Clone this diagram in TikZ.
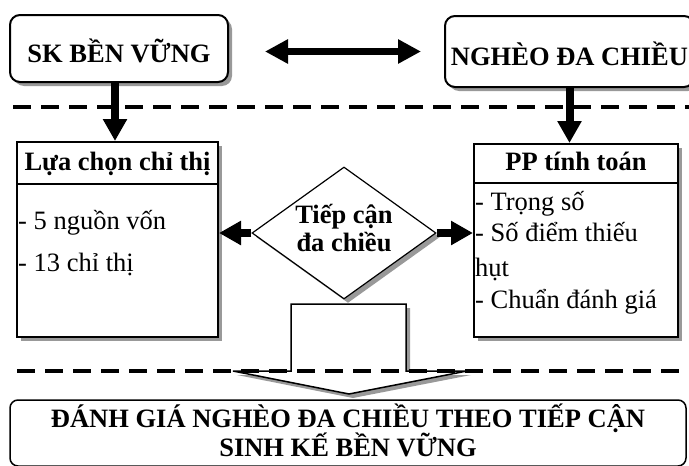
\documentclass[tikz,border=0pt]{standalone}
\usepackage{fontspec}
\setmainfont{Liberation Serif}
\usetikzlibrary{arrows.meta,shapes.geometric,shadows}

\begin{document}
\begin{tikzpicture}[x=1pt,y=-1pt,
  boxshadow/.style={drop shadow={shadow xshift=4pt,shadow yshift=-4pt,fill=black!40,opacity=1}},
  bigfont/.style={font=\fontsize{26.5}{30}\selectfont},
  boldfont/.style={font=\fontsize{26.5}{30}\selectfont\bfseries},
  topbox/.style={draw,line width=2pt,rounded corners=10pt,fill=white,boxshadow,inner sep=0pt,text height=27pt,text depth=0pt,boldfont},
  listbox/.style={draw,line width=2pt,fill=white,boxshadow,inner sep=0pt},
  headbox/.style={draw,line width=2pt,inner sep=0pt,text height=20pt,text depth=6pt,boldfont},
  itemtext/.style={anchor=base west,inner sep=1pt,bigfont},
  fatarrow/.style={line width=8pt,-{Triangle[length=22pt,width=23pt]}},
  sepline/.style={line width=4pt,dash pattern=on 18pt off 10pt}]
\useasboundingbox (0,0) rectangle (689,466);

% top row
\node[topbox,minimum width=218pt,minimum height=67pt] (sk) at (119,48.5) {SK BỀN VỮNG};
\node[topbox,minimum width=249pt,minimum height=71pt] (ngheo) at (569.5,51.5) {NGHÈO ĐA CHIỀU};
\draw[line width=7pt,{Triangle[length=23pt,width=23pt]}-{Triangle[length=23pt,width=23pt]},
  shorten <=36pt,shorten >=23pt] (sk.east |- ngheo.west) -- (ngheo.west);

% two lists
\node[listbox,minimum width=201pt,minimum height=195pt] (lc) at (117.5,239.5) {};
\node[headbox,minimum width=201pt,minimum height=42pt,anchor=north] (lchead) at (lc.north) {Lựa chọn chỉ thị};
\node[itemtext] (lc1) at (17,229) {- 5 nguồn vốn};
\node[itemtext] (lc2) at (17,271) {- 13 chỉ thị};

\node[listbox,minimum width=204pt,minimum height=193pt] (pp) at (576,240.5) {};
\node[headbox,minimum width=204pt,minimum height=39pt,anchor=north] (pphead) at (pp.north) {PP tính toán};
\node[itemtext] (pp1) at (474,210) {- Trọng số};
\node[itemtext] (pp2) at (474,241) {- Số điểm thiếu};
\node[itemtext] (pp3) at (474,276) {hụt};
\node[itemtext] (pp4) at (474,308) {- Chuẩn đánh giá};

% diamond
\node[draw,diamond,line width=1.2pt,fill=white,boxshadow,aspect=1.4,
  minimum width=184pt,minimum height=132pt,inner sep=0pt] (td) at (344,233) {};
\node[boldfont,anchor=base] (td1) at ([yshift=10pt]td.center) {Tiếp cận};
\node[boldfont,anchor=base] (td2) at ([yshift=-18pt]td.center) {đa chiều};

% arrows
\coordinate (skfoot) at ([xshift=-4pt]sk.south);
\draw[fatarrow] (skfoot) -- (skfoot |- lc.north);
\draw[fatarrow] (ngheo.south) -- (ngheo.south |- pp.north);
\draw[fatarrow] (td.west) -- (lc.east |- td.west);
\draw[fatarrow] (td.east) -- (pp.west |- td.east);

% block arrow down
\draw[line width=1.5pt,fill=white,boxshadow] (291,304) -- (406,304) -- (406,371) -- (467,371)
  -- (349,394) -- (233,371) -- (291,371) -- cycle;

% separators
\draw[sepline] (13,107) -- (689,107);
\draw[sepline] (17,371) -- (689,371);

% result
\node[draw,line width=1.5pt,rounded corners=8pt,minimum width=676pt,minimum height=66pt,inner sep=0pt] (eval) at (348,433) {};
\node[boldfont,anchor=base] (eval1) at ([yshift=-28pt]eval.north) {ĐÁNH GIÁ NGHÈO ĐA CHIỀU THEO TIẾP CẬN};
\node[boldfont,anchor=base] (eval2) at ([yshift=-57pt]eval.north) {SINH KẾ BỀN VỮNG};
\end{tikzpicture}
\end{document}
